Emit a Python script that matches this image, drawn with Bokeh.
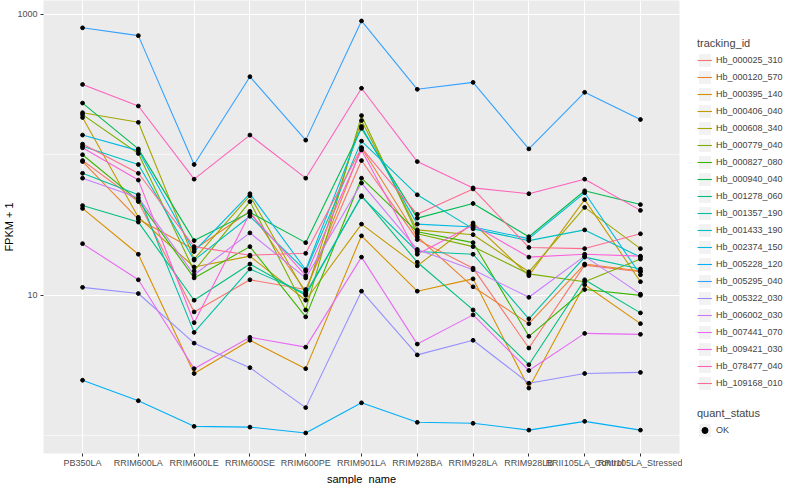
from bokeh.plotting import figure
from bokeh.layouts import row
from bokeh.models import FactorRange, Range1d, FixedTicker, PrintfTickFormatter, Legend, LegendItem, Title
from bokeh.embed import file_html
from bokeh.resources import INLINE

samples = ["PB350LA", "RRIM600LA", "RRIM600LE", "RRIM600SE", "RRIM600PE", "RRIM901LA",
           "RRIM928BA", "RRIM928LA", "RRIM928LB", "RRII105LA_Control", "RRII105LA_Stressed"]

tracking_ids = ["Hb_000025_310", "Hb_000120_570", "Hb_000395_140", "Hb_000406_040", "Hb_000608_340",
                "Hb_000779_040", "Hb_000827_080", "Hb_000940_040", "Hb_001278_060", "Hb_001357_190",
                "Hb_001433_190", "Hb_002374_150", "Hb_005228_120", "Hb_005295_040", "Hb_005322_030",
                "Hb_006002_030", "Hb_007441_070", "Hb_009421_030", "Hb_078477_040", "Hb_109168_010"]

hues = ["#F8766D", "#EA8331", "#D89000", "#C09B00", "#A3A500", "#7CAE00", "#39B600", "#00BB4E",
        "#00BF7D", "#00C1A3", "#00BFC4", "#00BAE0", "#00B0F6", "#35A2FF", "#9590FF", "#C77CFF",
        "#E76BF3", "#FA62DB", "#FF62BC", "#FF6C91"]

# FPKM + 1 per sample, one list per tracking_id
hb_000025_310 = [90.9, 46.4, 7.62, 12.9, 11.0, 90.9, 24.9, 15.6, 4.22, 16.4, 14.7]
hb_000120_570 = [89.4, 34.8, 21.2, 39.6, 10.7, 112, 26.1, 11.5, 6.29, 16.7, 14.9]
hb_000395_140 = [41.5, 19.6, 2.78, 4.79, 3.01, 26.5, 10.7, 13.1, 2.19, 11.9, 6.29]
hb_000406_040 = [184, 35.9, 15.9, 19.0, 9.23, 32.1, 16.2, 32.7, 13.8, 47.9, 12.5]
hb_000608_340 = [199, 170, 18.1, 51.1, 10.3, 175, 29.2, 27.0, 14.7, 42.2, 21.5]
hb_000779_040 = [193, 102, 14.9, 46.4, 7.87, 190, 27.4, 22.2, 14.2, 12.5, 18.1]
hb_000827_080 = [100, 47.2, 13.3, 22.2, 7.03, 68.1, 28.3, 23.7, 5.11, 11.0, 10.0]
hb_000940_040 = [233, 110, 24.5, 38.9, 23.7, 154, 35.4, 45.0, 26.1, 55.4, 44.2]
hb_001278_060 = [43.5, 33.2, 9.23, 16.7, 10.0, 51.1, 17.2, 7.87, 3.21, 12.9, 7.50]
hb_001357_190 = [73.8, 51.9, 5.45, 15.4, 10.3, 50.3, 20.5, 19.6, 6.81, 18.7, 15.4]
hb_001433_190 = [115, 85.2, 17.8, 36.5, 14.9, 125, 51.9, 29.7, 24.5, 29.2, 18.7]
hb_002374_150 = [138, 107, 20.5, 52.8, 15.2, 159, 32.1, 30.6, 25.3, 53.6, 14.0]
hb_005228_120 = [2.49, 1.78, 1.17, 1.155, 1.05, 1.72, 1.25, 1.23, 1.10, 1.27, 1.10]
hb_005295_040 = [799, 703, 85.2, 359, 127, 894, 292, 327, 110, 278, 178]
hb_005322_030 = [11.4, 10.3, 4.57, 3.06, 1.59, 10.7, 3.77, 4.79, 2.37, 2.78, 2.83]
hb_006002_030 = [68.1, 49.5, 14.0, 27.8, 13.3, 62.9, 21.2, 15.2, 9.68, 19.0, 10.2]
hb_007441_070 = [23.3, 12.9, 3.01, 5.03, 4.28, 18.7, 4.50, 7.26, 2.92, 5.36, 5.28]
hb_009421_030 = [112, 66.0, 6.39, 38.3, 13.8, 108, 19.6, 31.6, 18.7, 19.6, 19.0]
hb_078477_040 = [316, 222, 67.0, 138, 68.1, 297, 89.4, 58.1, 52.8, 67.0, 40.2]
hb_109168_010 = [119, 73.8, 22.2, 19.3, 19.9, 112, 37.7, 57.1, 21.9, 21.5, 27.4]

series = [hb_000025_310, hb_000120_570, hb_000395_140, hb_000406_040, hb_000608_340,
          hb_000779_040, hb_000827_080, hb_000940_040, hb_001278_060, hb_001357_190,
          hb_001433_190, hb_002374_150, hb_005228_120, hb_005295_040, hb_005322_030,
          hb_006002_030, hb_007441_070, hb_009421_030, hb_078477_040, hb_109168_010]

FONT = "Liberation Sans"

p = figure(width=682, height=484,
           x_range=FactorRange(*samples, range_padding=0.2, range_padding_units="absolute"),
           y_range=Range1d(0.75, 1250), y_axis_type="log",
           output_backend="svg", toolbar_location=None,
           min_border_left=0, min_border_right=3, min_border_top=0, min_border_bottom=0,
           background_fill_color="#EBEBEB", border_fill_color="white", outline_line_color=None)

ticker = FixedTicker(ticks=[10, 1000], minor_ticks=[1, 100])
p.yaxis.ticker = ticker
p.ygrid.ticker = ticker
p.yaxis.formatter = PrintfTickFormatter(format="%d")
p.ygrid.grid_line_color = "white"
p.ygrid.grid_line_width = 1.1
p.ygrid.minor_grid_line_color = "white"
p.ygrid.minor_grid_line_width = 0.55
p.xgrid.grid_line_color = "white"
p.xgrid.grid_line_width = 1.1

for ax in (p.xaxis[0], p.yaxis[0]):
    ax.axis_line_color = None
    ax.major_tick_line_color = "#333333"
    ax.major_tick_out = 3
    ax.major_tick_in = 0
    ax.minor_tick_line_color = None
    ax.major_label_text_font = FONT
    ax.major_label_text_font_size = "9px"
    ax.major_label_text_color = "#4D4D4D"
    ax.major_label_standoff = 2
p.xaxis.major_label_standoff = 1

title_style = dict(text_font=FONT, text_font_size="11px", text_font_style="normal",
                   text_color="black", align="center", standoff=0, offset=0)
p.add_layout(Title(text="sample_name", **title_style), "below")
p.add_layout(Title(text="FPKM + 1", **title_style), "left")

for vals, col in zip(series, hues):
    p.line(samples, vals, line_color=col, line_width=1.1)

xs = [s for vals in series for s in samples]
ys = [v for vals in series for v in vals]
p.scatter(xs, ys, size=3.8, color="black")

# legend panel
lp = figure(width=102, height=484, x_range=Range1d(0, 1), y_range=Range1d(0, 1),
            output_backend="svg", toolbar_location=None, x_axis_location=None, y_axis_location=None,
            min_border=0, outline_line_color=None, background_fill_color="white",
            border_fill_color="white")
lp.grid.visible = False

off = [5, 6]
bg = lp.rect(x=off, y=off, width=1, height=1, fill_color="#F2F2F2", line_color=None)
key_lines = [lp.line(x=off, y=off, line_color=col, line_width=1.1) for col in hues]
key_pts = lp.scatter(x=off, y=off, size=4, color="black")

common = dict(title_text_font=FONT, title_text_font_size="11px", title_text_font_style="normal",
              label_text_font=FONT, label_text_font_size="9px", label_standoff=4,
              glyph_width=15, glyph_height=16, spacing=1, padding=5, margin=0,
              title_standoff=3, border_line_alpha=0, background_fill_alpha=0)

leg1 = Legend(items=[LegendItem(label=t, renderers=[bg, r]) for t, r in zip(tracking_ids, key_lines)],
              title="tracking_id", location=(10, 57), **common)
leg2 = Legend(items=[LegendItem(label="OK", renderers=[bg, key_pts])],
              title="quant_status", location=(10, 10), **common)
lp.add_layout(leg1)
lp.add_layout(leg2)

layout = row(p, lp, spacing=0)
open("out.html", "w").write(file_html(layout, INLINE))
